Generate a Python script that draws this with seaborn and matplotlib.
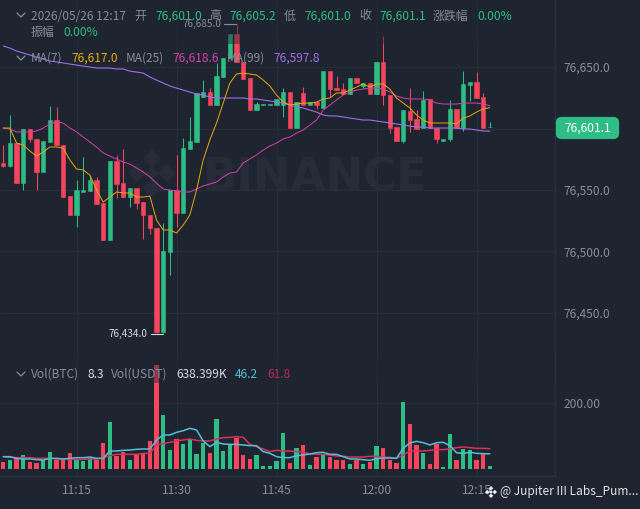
import numpy as np
import pandas as pd
import seaborn as sns
import matplotlib
matplotlib.use('Agg')
import matplotlib.pyplot as plt
from matplotlib.lines import Line2D
from matplotlib.patches import FancyBboxPatch, Polygon, Rectangle

# 1 minute candles, 11:04 -> 12:17
OPEN = [76572.0,76569.5,76588.2,76555.7,76599.6,76591.5,76564.6,76589.0,76606.9,76586.6,
        76545.1,76529.7,76548.4,76549.2,76558.1,76539.4,76509.4,76573.6,76555.7,76544.3,
        76551.6,76540.2,76529.7,76519.1,76434.5,76499.6,76550.0,76531.3,76583.3,76589.0,
        76625.6,76629.7,76619.1,76641.9,76657.3,76676.8,76654.1,76641.0,76615.0,76619.1,
        76619.1,76619.1,76619.1,76629.7,76600.4,76628.9,76619.1,76621.5,76616.7,76646.7,
        76632.9,76632.0,76628.0,76641.0,76634.6,76637.0,76628.0,76654.1,76627.2,76601.2,
        76589.8,76614.2,76607.7,76600.4,76624.0,76600.4,76589.8,76591.5,76615.9,76600.4,
        76635.4,76637.8,76625.6,76601.0]
HIGH = [76586.6,76611.0,76588.2,76600.0,76599.6,76591.5,76590.0,76618.3,76617.5,76586.6,
        76545.1,76558.1,76576.8,76562.2,76560.6,76539.4,76573.6,76578.5,76583.3,76551.6,
        76551.6,76540.2,76529.7,76519.1,76523.2,76550.0,76578.5,76592.3,76609.4,76628.9,
        76639.4,76632.9,76653.3,76657.3,76676.8,76685.0,76654.1,76641.0,76621.5,76619.9,
        76619.9,76624.0,76632.9,76629.7,76621.5,76633.7,76621.5,76621.5,76646.7,76646.7,
        76642.7,76637.0,76641.0,76641.0,76637.0,76637.0,76654.1,76675.2,76627.2,76601.2,
        76615.0,76632.9,76615.0,76630.5,76624.0,76600.4,76591.5,76623.2,76615.9,76646.7,
        76637.8,76645.9,76628.9,76605.2]
LOW = [76568.7,76569.0,76555.7,76550.0,76589.0,76550.0,76564.6,76589.0,76586.6,76544.3,
       76529.7,76519.9,76548.4,76549.2,76538.6,76509.4,76509.4,76543.5,76544.3,76536.2,
       76534.6,76510.2,76514.2,76434.0,76434.0,76480.9,76519.9,76531.3,76583.3,76589.0,
       76625.6,76619.1,76619.1,76641.9,76657.3,76654.1,76640.0,76615.0,76615.0,76619.1,
       76619.1,76619.1,76609.4,76600.4,76600.4,76619.1,76619.1,76615.9,76616.7,76625.6,
       76631.3,76628.0,76628.0,76637.0,76632.9,76628.0,76628.0,76619.1,76596.3,76589.8,
       76588.2,76597.2,76599.6,76600.4,76600.4,76588.2,76589.8,76589.8,76600.4,76598.0,
       76622.4,76624.8,76600.4,76601.0]
CLOSE = [76569.5,76588.2,76555.7,76599.6,76591.1,76564.6,76589.8,76606.9,76586.6,76544.3,
         76529.7,76550.0,76550.0,76558.1,76538.6,76509.4,76573.6,76554.9,76544.3,76551.6,
         76539.4,76529.7,76519.1,76434.5,76500.4,76550.0,76531.3,76584.1,76589.8,76628.9,
         76629.7,76619.1,76642.7,76657.3,76676.8,76654.1,76640.0,76615.0,76619.9,76619.9,
         76619.9,76624.0,76629.7,76600.4,76621.5,76619.1,76621.5,76619.1,76646.7,76632.0,
         76631.3,76628.0,76641.0,76637.0,76637.0,76628.0,76654.1,76627.2,76600.4,76589.8,
         76615.0,76606.9,76599.6,76623.2,76600.4,76591.5,76591.5,76615.9,76600.4,76636.2,
         76637.8,76624.8,76600.4,76601.1]

MA7 = [76600.4,76600.4,76588.2,76586.6,76581.7,76577.6,76580.9,76585.0,76585.0,76584.1,
       76574.4,76567.1,76566.3,76562.2,76550.0,76540.2,76544.3,76548.4,76547.6,76547.6,
       76544.3,76544.3,76545.1,76525.6,76517.5,76517.5,76515.0,76521.5,76529.7,76550.0,
       76574.4,76590.7,76604.5,76620.7,76637.0,76644.3,76645.1,76644.3,76643.5,76639.4,
       76634.6,76627.2,76621.5,76619.1,76619.9,76620.7,76620.7,76621.5,76624.0,76624.8,
       76628.9,76628.9,76631.3,76633.7,76636.2,76633.7,76636.2,76636.2,76632.1,76624.8,
       76620.7,76616.7,76611.0,76606.9,76604.5,76604.5,76604.5,76604.5,76603.7,76608.5,
       76610.2,76613.4,76615.9,76617.0]
MA25 = [76600.4,76599.6,76597.2,76597.2,76597.2,76598.0,76600.4,76603.7,76605.3,76604.5,
        76600.4,76597.2,76593.1,76589.0,76585.0,76580.1,76577.6,76575.2,76572.8,76571.1,
        76567.9,76564.6,76560.6,76555.7,76550.8,76550.0,76549.2,76548.4,76548.4,76550.8,
        76553.3,76554.9,76556.5,76560.6,76563.8,76564.6,76572.0,76575.2,76578.5,76582.5,
        76585.8,76588.2,76591.5,76593.1,76596.3,76598.8,76602.8,76606.9,76615.0,76619.1,
        76623.2,76627.2,76629.7,76631.3,76632.1,76632.9,76632.9,76632.1,76629.7,76626.4,
        76624.8,76624.0,76624.0,76624.0,76623.2,76620.7,76619.9,76619.9,76619.9,76620.7,
        76620.7,76620.7,76619.9,76618.6]
MA99 = [76667.1,76665.4,76663.0,76661.4,76659.8,76658.1,76656.5,76654.9,76654.1,76653.3,
        76652.4,76651.6,76650.8,76650.0,76649.2,76649.2,76649.2,76648.4,76648.4,76646.7,
        76645.9,76645.1,76641.9,76639.4,76637.0,76634.6,76632.9,76631.3,76629.7,76628.0,
        76627.2,76625.6,76624.8,76624.8,76624.8,76624.8,76624.8,76624.0,76624.0,76623.2,
        76622.4,76621.5,76620.7,76619.1,76617.5,76616.7,76615.0,76613.4,76611.0,76610.2,
        76610.2,76609.4,76608.5,76607.7,76606.9,76606.9,76606.1,76605.3,76604.5,76603.7,
        76602.8,76602.0,76601.2,76601.2,76600.4,76600.4,76600.4,76600.4,76600.4,76599.6,
        76599.6,76598.8,76598.0,76597.8]

VOL = [22.3,27.4,32.5,43.6,22.3,19.3,27.4,51.8,27.4,26.4,48.7,27.4,25.4,32.5,27.4,80.2,
       144.1,38.6,51.8,27.4,43.6,48.7,86.3,315.7,163.4,57.9,92.4,76.1,92.4,45.7,79.2,48.7,
       151.2,53.8,74.1,94.4,43.6,30.5,43.6,10.2,10.2,24.4,108.6,19.3,62.9,73.1,12.2,37.6,
       42.6,37.6,27.4,27.4,14.2,27.4,14.2,22.3,71.1,62.9,27.4,19.3,203.0,136.0,73.1,47.7,
       15.2,75.1,7.1,105.6,26.4,60.9,57.9,27.4,45.7,8.3]
VOL_MA_A = [37.6,37.6,32.5,30.5,30.5,28.4,27.4,32.5,32.5,30.5,32.5,34.5,34.5,36.5,32.5,32.5,
            54.8,54.8,56.8,57.9,59.9,60.9,60.9,88.3,103.5,103.5,111.7,116.7,123.8,118.8,85.3,
            68.0,81.2,76.1,75.1,75.1,73.1,71.1,71.1,52.8,47.7,37.6,34.5,34.5,40.6,42.6,45.7,
            49.7,50.8,44.7,44.7,37.6,30.5,30.5,28.4,26.4,31.5,33.5,33.5,32.5,62.9,79.2,84.2,
            80.2,73.1,80.2,81.2,71.1,49.7,47.7,50.8,47.7,46.7,46.2]
VOL_MA_B = [37.6,35.5,34.5,34.5,34.5,32.5,32.5,32.5,30.5,30.5,29.4,29.4,29.4,30.5,30.5,34.5,
            40.6,44.7,44.7,44.7,44.7,47.7,47.7,73.1,77.1,81.2,85.3,88.3,91.4,87.3,85.3,85.3,
            91.4,95.4,96.4,98.5,96.4,75.1,68.0,60.9,52.8,56.8,54.8,54.8,52.8,51.8,45.7,44.7,
            44.7,42.6,39.6,38.6,36.5,36.5,36.5,38.6,38.6,35.5,35.5,32.5,42.6,54.8,54.8,54.8,
            56.8,58.9,58.9,61.9,65.0,67.0,65.0,62.9,62.9,61.8]

PRICE_TICKS = [76450, 76500, 76550, 76600, 76650]
PRICE_LABELS = ['76,450.0', '76,500.0', '76,550.0', '', '76,650.0']
TIME_TICKS = [11, 26, 41, 56, 71]
TIME_LABELS = ['11:15', '11:30', '11:45', '12:00', '12:15']

BG = '#1e2530'
GRID = '#272d38'
RED = '#f6465d'
GREEN = '#2ebd85'
GRAY = '#848e9c'
LIGHT = '#d5d9de'
YELLOW = '#e9a80c'
PINK = '#d83fae'
PURPLE = '#a06ee8'
CYAN = '#52bfd8'
CRIMSON = '#d9305c'

sns.set_theme(style='dark')
plt.rcParams['font.family'] = ['Noto Sans CJK SC', 'DejaVu Sans']


def fx(x):
    return x / 640


def fy(y):
    return 1 - y / 509


def label(x, y, s, color=GRAY, size=8.6, **kw):
    return fig.text(fx(x), fy(y), s, color=color, fontsize=size, va='center', **kw)


def chevron(x, y):
    fig.add_artist(Line2D([fx(x - 4), fx(x), fx(x + 4)], [fy(y - 2), fy(y + 2), fy(y - 2)],
                          color=GRAY, lw=0.9))


def diamond(artist_to, cx, cy, r, color, zorder=0.6):
    # the four arms and the centre of the logo
    w, h = 640, 509
    for dx, dy, s in [(0, -0.62, 0.38), (0, 0.62, 0.38), (-0.62, 0, 0.38), (0.62, 0, 0.38), (0, 0, 0.3)]:
        pts = [(cx + (dx + a * s) * r, cy + (dy + b * s) * r) for a, b in [(0, -1), (1, 0), (0, 1), (-1, 0)]]
        artist_to.add_artist(Polygon([(px / w, 1 - py / h) for px, py in pts], closed=True,
                                     transform=fig.transFigure, facecolor=color, edgecolor='none',
                                     zorder=zorder))


minutes = np.arange(len(OPEN))
df = pd.DataFrame({'m': minutes, 'o': OPEN, 'h': HIGH, 'l': LOW, 'c': CLOSE, 'vol': VOL,
                   'ma7': MA7, 'ma25': MA25, 'ma99': MA99, 'va': VOL_MA_A, 'vb': VOL_MA_B})
df['dir'] = np.where(df.c >= df.o, 'up', 'down')
colors = df.dir.map({'up': GREEN, 'down': RED}).tolist()

fig = plt.figure(figsize=(6.4, 5.09), dpi=100, facecolor=BG)
ax = fig.add_axes([0, fy(358), 555 / 640, 358 / 509], facecolor=BG)
vax = fig.add_axes([0, fy(476), 555 / 640, 118 / 509], facecolor=BG)

for a in (ax, vax):
    a.grid(True, color=GRID, lw=0.8)
    a.set_axisbelow(True)
    for s in ('top', 'left'):
        a.spines[s].set_visible(False)
    for s in ('bottom', 'right'):
        a.spines[s].set_color('#2b313c')
        a.spines[s].set_linewidth(1)
    a.yaxis.tick_right()

# candles
ax.vlines(df.m, df.l, df.h, colors=colors, lw=0.75, zorder=2)
ax.bar(df.m, (df.c - df.o).abs(), bottom=df[['o', 'c']].min(axis=1), width=0.68,
       color=colors, edgecolor=colors, linewidth=0.4, zorder=3)
sns.lineplot(data=df, x='m', y='ma99', color=PURPLE, linewidth=0.8, ax=ax, zorder=4)
sns.lineplot(data=df, x='m', y='ma25', color=PINK, linewidth=0.7, ax=ax, zorder=5)
sns.lineplot(data=df, x='m', y='ma7', color=YELLOW, linewidth=0.7, ax=ax, zorder=6)

ax.set_xlim(-0.48, 82.77)
ax.set_ylim(76413.4, 76704.5)
ax.set_xticks(TIME_TICKS)
ax.set_yticks(PRICE_TICKS)
ax.set_yticklabels(PRICE_LABELS)
ax.tick_params(axis='x', length=0, labelbottom=False)
ax.tick_params(axis='y', length=0, pad=5.8, labelsize=8.6, labelcolor=GRAY)
ax.set_xlabel('')
ax.set_ylabel('')

# volume
sns.barplot(data=df, x='m', y='vol', hue='dir', palette={'up': GREEN, 'down': RED}, dodge=False,
            native_scale=True, width=0.68, legend=False, ax=vax, zorder=2,
            linewidth=0, edgecolor='none', saturation=1)
sns.lineplot(data=df, x='m', y='vb', color=CRIMSON, linewidth=1.1, ax=vax, zorder=3)
sns.lineplot(data=df, x='m', y='va', color=CYAN, linewidth=1.1, ax=vax, zorder=4)
vax.set_xlim(-0.48, 82.77)
vax.set_ylim(-21.3, 338)
vax.set_xticks(TIME_TICKS)
vax.set_xticklabels(TIME_LABELS)
vax.set_yticks([200])
vax.set_yticklabels(['200.00'])
vax.tick_params(axis='x', length=0, pad=6, labelsize=8.6, labelcolor=GRAY)
vax.tick_params(axis='y', length=0, pad=5.8, labelsize=8.6, labelcolor=GRAY)
vax.set_xlabel('')
vax.set_ylabel('')

# watermark under the candles
ax.text(fx(203), fy(178), 'BINANCE', transform=fig.transFigure, color='#272d38', fontsize=32.4,
        fontweight='bold', family='DejaVu Sans', va='center', ha='left', zorder=0.5)
diamond(ax, 152, 173, 24, '#272d38')

# header bands dim whatever runs under the legend text
ax.add_patch(Rectangle((0, fy(44)), 555 / 640, 44 / 509, transform=fig.transFigure,
                       facecolor=BG, alpha=0.45, edgecolor='none', zorder=8))
vax.add_patch(Rectangle((0, fy(383)), 555 / 640, 25 / 509, transform=fig.transFigure,
                        facecolor=BG, alpha=0.45, edgecolor='none', zorder=8))

# legends
chevron(21, 15)
label(31, 16, '2026/05/26 12:17')
label(134, 16, '开')
label(155, 16, '76,601.0', GREEN)
label(209, 16, '高')
label(229, 16, '76,605.2', GREEN)
label(284, 16, '低')
label(304, 16, '76,601.0', GREEN)
label(359, 16, '收')
label(379, 16, '76,601.1', GREEN)
label(433, 16, '涨跌幅')
label(477, 16, '0.00%', GREEN)
label(31, 32, '振幅')
label(63, 32, '0.00%', GREEN)

chevron(21, 58)
label(31, 58, 'MA(7)')
label(71, 58, '76,617.0', YELLOW)
label(126, 58, 'MA(25)')
label(172, 58, '76,618.6', PINK)
label(227, 58, 'MA(99)')
label(273, 58, '76,597.8', PURPLE)

chevron(21, 374)
label(31, 374, 'Vol(BTC)')
label(87, 374, '8.3', LIGHT)
label(111, 374, 'Vol(USDT)')
label(176, 374, '638.399K', LIGHT)
label(235, 374, '46.2', CYAN)
label(267, 374, '61.8', '#b82a52')

# high / low markers
label(183, 24, '76,685.0', GRAY, size=7.2)
fig.add_artist(Line2D([fx(224), fx(236)], [fy(24), fy(24)], color=GRAY, lw=0.8))
label(109, 333.5, '76,434.0', LIGHT, size=7.2)
fig.add_artist(Line2D([fx(151), fx(163)], [fy(333.5), fy(333.5)], color=LIGHT, lw=0.8))

# last price tag
fig.add_artist(FancyBboxPatch((fx(558), fy(137)), 59 / 640, 18 / 509,
                              boxstyle='round,pad=0,rounding_size=0.006',
                              transform=fig.transFigure, facecolor=GREEN, edgecolor=GREEN, lw=3))
fig.text(fx(587.5), fy(128), '76,601.1', color='white', fontsize=8.6, ha='center', va='center')

# footer
diamond(fig, 491, 492, 6, '#eaecef', zorder=5)
label(500, 492, '@ Jupiter III Labs_Pum...', '#dfe2e6', size=8.6)

fig.savefig('out.png', dpi=100, facecolor=BG)
